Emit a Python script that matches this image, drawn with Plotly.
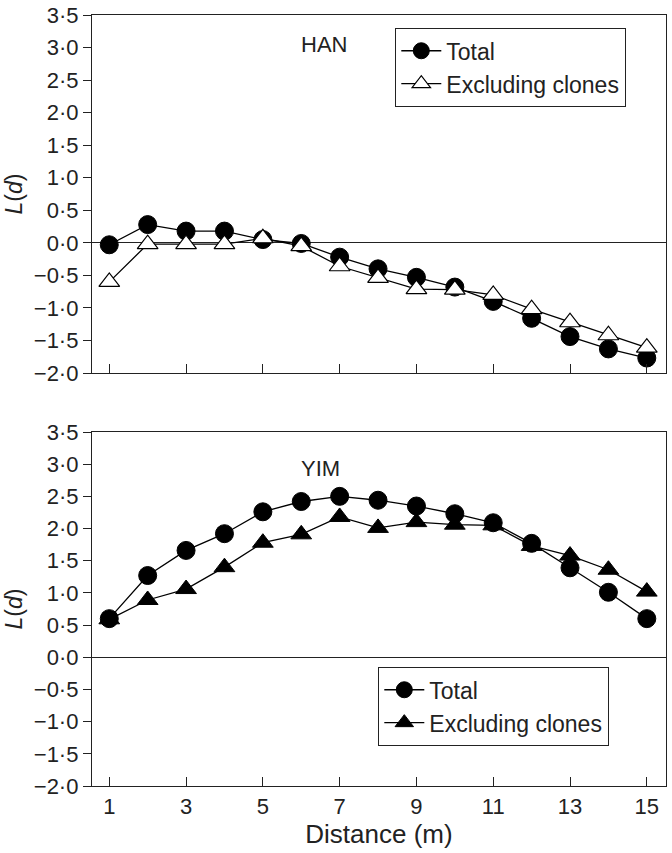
import plotly.graph_objects as go

distance = list(range(1, 16))

han_total = [-0.03, 0.28, 0.18, 0.18, 0.05, -0.01, -0.22, -0.40, -0.53, -0.68, -0.90, -1.16, -1.44, -1.63, -1.77]
han_excl = [-0.60, -0.02, -0.02, -0.02, 0.07, -0.05, -0.36, -0.54, -0.71, -0.72, -0.80, -1.02, -1.22, -1.42, -1.61]

yim_total = [0.60, 1.27, 1.66, 1.92, 2.26, 2.42, 2.50, 2.44, 2.35, 2.23, 2.09, 1.77, 1.39, 1.01, 0.60]
yim_excl = [0.59, 0.89, 1.06, 1.40, 1.78, 1.91, 2.18, 2.01, 2.10, 2.06, 2.05, 1.73, 1.58, 1.36, 1.02]

y_tickvals = [3.5, 3.0, 2.5, 2.0, 1.5, 1.0, 0.5, 0.0, -0.5, -1.0, -1.5, -2.0]
y_ticktext = ["3\u00b75", "3\u00b70", "2\u00b75", "2\u00b70", "1\u00b75", "1\u00b70", "0\u00b75", "0\u00b70",
              "\u22120\u00b75", "\u22121\u00b70", "\u22121\u00b75", "\u22122\u00b70"]
x_tickvals = [1, 3, 5, 7, 9, 11, 13, 15]
x_ticktext = ["1", "3", "5", "7", "9", "11", "13", "15"]

FONT = "Liberation Sans, Arial, sans-serif"
INK = "#222"
W, H = 672, 853
L, R, T, B = 92, 6, 15, 67
plot_h = H - T - B

def ydom(top_px, bot_px):
    return [(H - B - bot_px) / plot_h, (H - B - top_px) / plot_h]

fig = go.Figure()

line_style = dict(color="black", width=1.3)
fig.add_trace(go.Scatter(x=distance, y=han_total, mode="lines+markers", name="Total",
                         line=line_style,
                         marker=dict(symbol="circle", size=18, color="black", line=dict(color="black", width=1)),
                         xaxis="x", yaxis="y", legend="legend"))
fig.add_trace(go.Scatter(x=distance, y=han_excl, mode="lines+markers", name="Excluding clones",
                         line=line_style,
                         marker=dict(symbol="triangle-up", size=18, color="white", line=dict(color="black", width=1.2)),
                         xaxis="x", yaxis="y", legend="legend"))
fig.add_trace(go.Scatter(x=distance, y=yim_total, mode="lines+markers", name="Total",
                         line=line_style,
                         marker=dict(symbol="circle", size=18, color="black", line=dict(color="black", width=1)),
                         xaxis="x2", yaxis="y2", legend="legend2"))
fig.add_trace(go.Scatter(x=distance, y=yim_excl, mode="lines+markers", name="Excluding clones",
                         line=line_style,
                         marker=dict(symbol="triangle-up", size=18, color="black", line=dict(color="black", width=1)),
                         xaxis="x2", yaxis="y2", legend="legend2"))

xrange = [0.55, 15.5]
yrange = [-2.0, 3.5]
common_x = dict(range=xrange, showline=True, linecolor=INK, linewidth=1.3, mirror=True,
                ticks="inside", ticklen=9, tickcolor=INK, tickvals=x_tickvals,
                showgrid=False, zeroline=False, automargin=False)
common_y = dict(range=yrange, showline=True, linecolor=INK, linewidth=1.3, mirror=True,
                ticks="outside", ticklen=8, tickcolor=INK, tickvals=y_tickvals, ticktext=y_ticktext,
                showgrid=False, zeroline=True, zerolinecolor=INK, zerolinewidth=1.3, automargin=False,
                tickfont=dict(size=22, family=FONT, color=INK),
                title=dict(text="<i>L</i>(<i>d</i>)", font=dict(size=23, family=FONT, color=INK), standoff=4))

legend_common = dict(xanchor="left", yanchor="top", bordercolor=INK, borderwidth=1.3,
                     bgcolor="white", font=dict(size=23, family=FONT, color=INK),
                     itemwidth=40, tracegroupgap=0)

fig.update_layout(
    width=W, height=H,
    margin=dict(l=L, r=R, t=T, b=B),
    paper_bgcolor="white", plot_bgcolor="white",
    font=dict(family=FONT, color=INK),
    xaxis=dict(common_x, anchor="y", showticklabels=False),
    yaxis=dict(common_y, domain=ydom(15, 373), anchor="x"),
    xaxis2=dict(common_x, anchor="y2", ticktext=x_ticktext, showticklabels=True,
                tickfont=dict(size=22, family=FONT, color=INK),
                title=dict(text="Distance (m)", font=dict(size=26, family=FONT, color=INK), standoff=6)),
    yaxis2=dict(common_y, domain=ydom(432, 786), anchor="x2"),
    legend=dict(legend_common, x=(395 - L) / (W - L - R), y=(H - B - 28) / plot_h),
    legend2=dict(legend_common, x=(378 - L) / (W - L - R), y=(H - B - 667) / plot_h),
    annotations=[
        dict(text="HAN", x=6.6, y=3.04, xref="x", yref="y", showarrow=False,
             font=dict(size=22, family=FONT, color=INK)),
        dict(text="YIM", x=6.5, y=2.94, xref="x2", yref="y2", showarrow=False,
             font=dict(size=22, family=FONT, color=INK)),
    ],
)

fig.write_html("out.html", config={"displayModeBar": False},
               post_script="document.body.style.margin='0';document.body.style.overflow='hidden';")
